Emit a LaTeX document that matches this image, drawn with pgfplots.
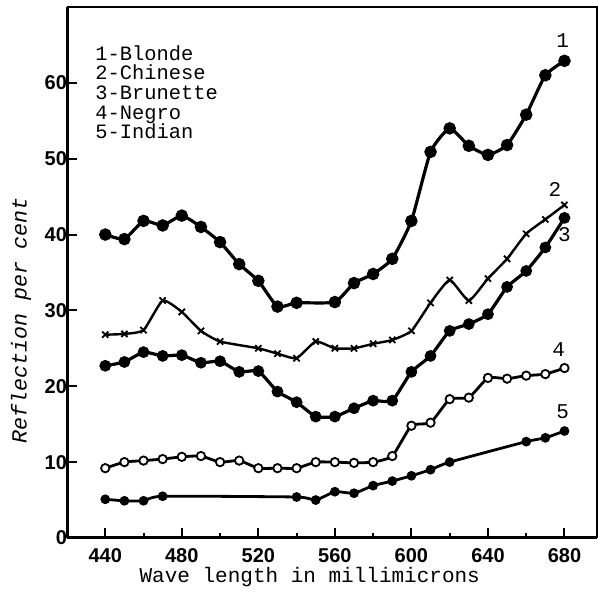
\documentclass[border=0pt]{standalone}
\usepackage{fontspec}
\setmainfont{Liberation Mono}
\setsansfont{Liberation Sans}
\usepackage{pgfplots}
\pgfplotsset{compat=1.18}
\usetikzlibrary{calc}

\begin{document}
\begin{tikzpicture}
\begin{axis}[
    scale only axis,
    width=265pt, height=265.5pt,
    xmin=420, xmax=697,
    ymin=0, ymax=70,
    axis x line*=bottom,
    axis y line*=left,
    axis line style={line width=1.5pt},
    xtick={440,480,...,680},
    minor xtick={460,500,...,660},
    ytick={0,10,...,60},
    tick align=inside,
    major tick length=5pt,
    minor tick length=2.5pt,
    tick style={line width=1pt, black},
    ticklabel style={font=\sffamily\bfseries\fontsize{10}{12}\selectfont},
    xticklabel style={yshift=-1.5pt},
    yticklabel style={xshift=3.5pt},
    /pgf/number format/assume math mode=true,
    /pgf/number format/1000 sep={},
    every axis plot/.append style={smooth, tension=0.3},
    clip=false,
]
% thin top and right border
\draw[line width=0.9pt] (rel axis cs:0,1) -- (rel axis cs:1,1) -- (rel axis cs:1,0);

% 1 - Blonde
\addplot[black, line width=1.6pt, mark=*, mark size=2.3pt] coordinates {
    (440,40.0) (450,39.4) (460,41.8) (470,41.2) (480,42.5) (490,41.0)
    (500,39.0) (510,36.1) (520,33.9) (530,30.5) (540,31.0) (560,31.1)
    (570,33.6) (580,34.8) (590,36.8) (600,41.8) (610,50.9) (620,54.0)
    (630,51.7) (640,50.5) (650,51.8) (660,55.8) (670,61.0) (680,62.9)
};

% 2 - Chinese
\addplot[black, line width=1.2pt, mark=x, mark size=2.2pt, mark options={line width=0.9pt}] coordinates {
    (440,26.8) (450,26.9) (460,27.4) (470,31.3) (480,29.8) (490,27.3)
    (500,25.9) (520,25.0) (530,24.3) (540,23.7) (550,25.9) (560,25.0)
    (570,25.0) (580,25.6) (590,26.1) (600,27.3) (610,31.0) (620,34.0)
    (630,31.3) (640,34.2) (650,36.8) (660,40.1) (670,42.0) (680,43.9)
};

% 3 - Brunette
\addplot[black, line width=1.6pt, mark=*, mark size=2.1pt] coordinates {
    (440,22.7) (450,23.2) (460,24.5) (470,24.0) (480,24.1) (490,23.1)
    (500,23.3) (510,21.9) (520,22.0) (530,19.3) (540,17.9) (550,16.0)
    (560,16.0) (570,17.1) (580,18.1) (590,18.1) (600,21.9) (610,24.0)
    (620,27.3) (630,28.2) (640,29.5) (650,33.1) (660,35.2) (670,38.3)
    (680,42.2)
};

% 4 - Negro
\addplot[black, line width=1.4pt, mark=*, mark size=2.1pt,
         mark options={fill=white, line width=0.9pt}] coordinates {
    (440,9.2) (450,10.0) (460,10.2) (470,10.4) (480,10.7) (490,10.8)
    (500,10.0) (510,10.2) (520,9.2) (530,9.2) (540,9.2) (550,10.0)
    (560,10.0) (570,9.9) (580,10.0) (590,10.8) (600,14.8) (610,15.2)
    (620,18.3) (630,18.5) (640,21.1) (650,21.0) (660,21.4) (670,21.6)
    (680,22.4)
};

% 5 - Indian
\addplot[black, line width=1.4pt, mark=*, mark size=1.7pt] coordinates {
    (440,5.1) (450,4.9) (460,4.9) (470,5.5) (540,5.4) (550,5.0)
    (560,6.1) (570,5.9) (580,6.9) (590,7.5) (600,8.2) (610,9.0)
    (620,10.0) (660,12.7) (670,13.2) (680,14.1)
};

% curve numbers
\node[font=\fontsize{10.5}{12}\selectfont] at (axis cs:679,65.6) {1};
\node[font=\fontsize{10.5}{12}\selectfont] at (axis cs:675,46.0) {2};
\node[font=\fontsize{10.5}{12}\selectfont] at (axis cs:680,40.0) {3};
\node[font=\fontsize{10.5}{12}\selectfont] at (axis cs:677,24.9) {4};
\node[font=\fontsize{10.5}{12}\selectfont] at (axis cs:679,16.6) {5};

% key
\node[anchor=north west, align=left, inner sep=0pt,
      font=\fontsize{10.2}{9.8}\selectfont] at (rel axis cs:0.053,0.928)
    {1-Blonde\\2-Chinese\\3-Brunette\\4-Negro\\5-Indian};

\coordinate (bl) at (rel axis cs:0,0);
\coordinate (tr) at (rel axis cs:1,1);
\coordinate (xl) at (rel axis cs:0.458,0);
\coordinate (yl) at (rel axis cs:0,0.41);
\end{axis}

% axis titles
\node[font=\fontsize{10.5}{12}\selectfont] at ($(xl)+(0,-19.5pt)$)
    {Wave length in millimicrons};
\node[rotate=90, font=\itshape\fontsize{10.8}{13}\selectfont] at ($(yl)+(-23pt,0)$)
    {Reflection per cent};

\pgfresetboundingbox
\path[use as bounding box] ($(bl)+(-33.5pt,-27pt)$) rectangle ($(tr)+(0.5pt,3.5pt)$);
\end{tikzpicture}
\end{document}
